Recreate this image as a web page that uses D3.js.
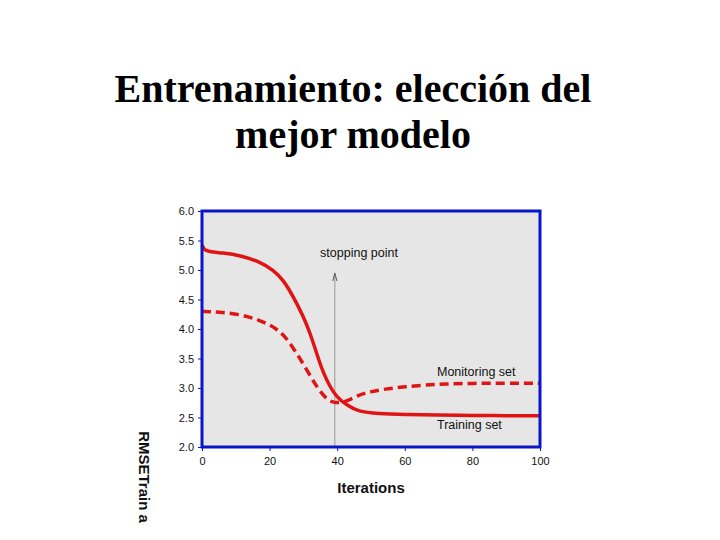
<!DOCTYPE html>
<html><head><meta charset="utf-8">
<script src="https://cdn.jsdelivr.net/npm/d3@7"></script>
<style>body{margin:0;background:#fff}svg{display:block}</style>
</head><body>
<svg id="c" width="720" height="540"></svg>
<script>
const titleLines = ["Entrenamiento: elección del", "mejor modelo"];
const xTicks = [0, 20, 40, 60, 80, 100];
const yTicks = [2.0, 2.5, 3.0, 3.5, 4.0, 4.5, 5.0, 5.5, 6.0];
const trainX = [0, 0.8, 2.4, 6, 11.2, 17.2, 21.1, 24.1, 27, 30, 32, 33.9, 35.9, 37.9, 39.8, 42.8, 46.2, 52, 60, 70, 80, 90, 100];
const trainY = [5.42, 5.33, 5.31, 5.29, 5.25, 5.14, 5.00, 4.83, 4.55, 4.21, 3.93, 3.59, 3.25, 3.02, 2.85, 2.71, 2.60, 2.565, 2.55, 2.54, 2.535, 2.53, 2.53];
const monX = [0, 5, 11.2, 17.2, 22.1, 25.1, 28, 31, 33.9, 36.9, 39.3, 42.8, 46.2, 50, 55, 60, 66, 72, 80, 90, 100];
const monY = [4.30, 4.29, 4.25, 4.15, 4.01, 3.84, 3.59, 3.31, 3.02, 2.80, 2.74, 2.77, 2.88, 2.94, 2.99, 3.02, 3.05, 3.07, 3.08, 3.08, 3.08];
const stopX = 39.3;
const annotations = ["stopping point", "Monitoring set", "Training set"];
const xLabel = "Iterations";
const yLabel = "RMSETrain a";

const svg = d3.select("#c");
const x = d3.scaleLinear().domain([0, 100]).range([202, 540]);
const y = d3.scaleLinear().domain([2, 6]).range([447, 211]);

svg.selectAll("text.title").data(titleLines).join("text")
  .attr("x", 353).attr("y", (d, i) => 102 + i * 46)
  .attr("text-anchor", "middle")
  .attr("font-family", "'Liberation Serif', 'Times New Roman', serif")
  .attr("font-weight", "bold").attr("font-size", 40).attr("fill", "#000")
  .text(d => d);

// plot background
svg.append("rect").attr("x", x(0)).attr("y", y(6)).attr("width", x(100) - x(0)).attr("height", y(2) - y(6))
  .attr("fill", "#e6e6e6");

// stopping line
svg.append("line").attr("x1", x(stopX)).attr("x2", x(stopX)).attr("y1", y(2)).attr("y2", y(4.95) + 2)
  .attr("stroke", "#9a9a9a").attr("stroke-width", 1);
svg.append("path")
  .attr("d", `M${x(stopX) - 2},${y(4.95) + 8} L${x(stopX)},${y(4.95)} L${x(stopX) + 2},${y(4.95) + 8}`)
  .attr("fill", "none").attr("stroke", "#555").attr("stroke-width", 1);

const line = d3.line().x(d => x(d[0])).y(d => y(d[1])).curve(d3.curveBasis);
svg.append("path").datum(d3.zip(trainX, trainY)).attr("d", line)
  .attr("fill", "none").attr("stroke", "#e01414").attr("stroke-width", 3.5);
svg.append("path").datum(d3.zip(monX, monY)).attr("d", line)
  .attr("fill", "none").attr("stroke", "#e01414").attr("stroke-width", 3.5)
  .attr("stroke-dasharray", "9,5");

// axes
const xAxis = svg.append("g").attr("transform", `translate(0,${y(2)})`)
  .call(d3.axisBottom(x).tickValues(xTicks).tickSize(4).tickPadding(6).tickFormat(d3.format("d")));
const yAxis = svg.append("g").attr("transform", `translate(${x(0)},0)`)
  .call(d3.axisLeft(y).tickValues(yTicks).tickSize(4).tickPadding(4).tickFormat(d3.format(".1f")));
[xAxis, yAxis].forEach(g => {
  g.select(".domain").remove();
  g.selectAll("line").attr("stroke", "#0a14c8");
  g.selectAll("text").attr("font-family", "Arial, 'Liberation Sans', sans-serif")
    .attr("font-size", 11).attr("fill", "#111");
});

// frame
svg.append("rect").attr("x", x(0)).attr("y", y(6)).attr("width", x(100) - x(0)).attr("height", y(2) - y(6))
  .attr("fill", "none").attr("stroke", "#0a14c8").attr("stroke-width", 3);

const annoPos = [[359, 257, "middle"], [437, 376, "start"], [437, 429, "start"]];
svg.selectAll("text.anno").data(annotations).join("text")
  .attr("x", (d, i) => annoPos[i][0]).attr("y", (d, i) => annoPos[i][1])
  .attr("text-anchor", (d, i) => annoPos[i][2])
  .attr("font-family", "Arial, 'Liberation Sans', sans-serif").attr("font-size", 12.5).attr("fill", "#111")
  .text(d => d);

svg.append("text").attr("x", 371).attr("y", 493).attr("text-anchor", "middle")
  .attr("font-family", "Arial, 'Liberation Sans', sans-serif").attr("font-weight", "bold")
  .attr("font-size", 15).attr("fill", "#111").text(xLabel);

svg.append("text").attr("transform", "translate(139,477) rotate(90)").attr("text-anchor", "middle")
  .attr("font-family", "Arial, 'Liberation Sans', sans-serif").attr("font-weight", "bold")
  .attr("font-size", 15).attr("fill", "#111").text(yLabel);
</script>
</body></html>
